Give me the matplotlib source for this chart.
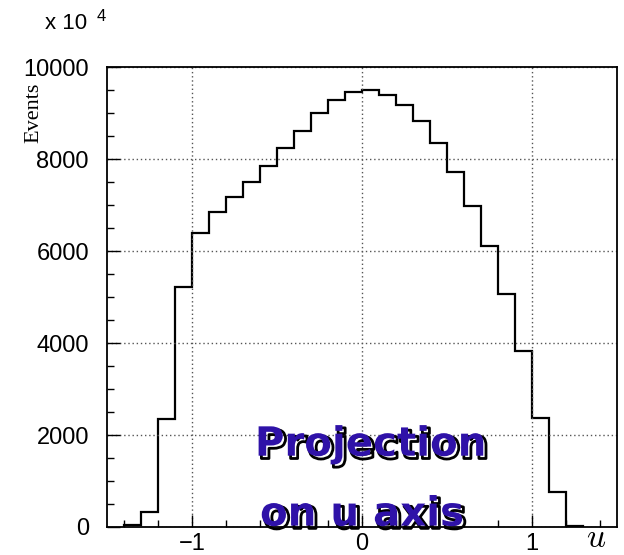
import numpy as np
import matplotlib
matplotlib.use("Agg")
import matplotlib.pyplot as plt
import matplotlib.patheffects as pe
from matplotlib.ticker import MultipleLocator

# bin edges (width 0.1) and counts
bin_edges = np.round(np.arange(-1.4, 1.3001, 0.1), 2)
counts = [40, 320, 2340, 5210, 6400, 6840, 7180, 7510, 7860, 8240, 8620,
          9000, 9280, 9460, 9500, 9400, 9180, 8820, 8360, 7730, 6990, 6110,
          5070, 3830, 2360, 750, 20]

x_ticks = [-1, 0, 1]
x_tick_labels = ["\u22121", "0", "1"]
y_ticks = [0, 2000, 4000, 6000, 8000, 10000]


def main():
    plt.rcParams["mathtext.fontset"] = "cm"
    fig = plt.figure(figsize=(6.24, 5.55), dpi=100)
    ax = fig.add_axes([0.1715, 0.0505, 0.8173, 0.8285])

    ax.stairs(counts, bin_edges, color="black", linewidth=1.6)

    ax.set_xlim(-1.5, 1.5)
    ax.set_ylim(0, 10000)
    ax.set_xticks(x_ticks)
    ax.set_xticklabels(x_tick_labels)
    ax.set_yticks(y_ticks)
    ax.xaxis.set_minor_locator(MultipleLocator(0.2))
    ax.yaxis.set_minor_locator(MultipleLocator(500))
    ax.tick_params(which="both", direction="in", top=False, right=False,
                   labelsize=17, width=1.0, color="black")
    ax.tick_params(which="major", length=9, pad=4)
    ax.tick_params(axis="y", which="major", pad=13)
    ax.tick_params(which="minor", length=5)
    for lbl in ax.get_xticklabels() + ax.get_yticklabels():
        lbl.set_family("Liberation Sans")

    ax.grid(True, which="major", linestyle=(0, (1, 2)), color="#555555",
            linewidth=1.0)
    for sp in ax.spines.values():
        sp.set_linewidth(1.3)

    fig.text(0.072, 0.958, "x 10", fontsize=16, family="Liberation Sans",
             ha="left", va="center")
    fig.text(0.155, 0.970, "4", fontsize=12, family="Liberation Sans",
             ha="left", va="center")
    fig.text(0.054, 0.796, "Events", rotation=90, fontsize=16,
             family="Liberation Serif", ha="center", va="center")
    fig.text(0.956, 0.031, "$u$", fontsize=24, ha="center", va="center")

    effects = [pe.SimpleLineShadow(offset=(2, -2), shadow_color="black",
                                   alpha=1.0, linewidth=2),
               pe.Normal()]
    ax.text(-0.63, 1550, "Projection", fontsize=29, fontweight="bold",
            family="DejaVu Sans", color="#2f12a8", ha="left", va="baseline",
            path_effects=effects)
    ax.text(-0.60, 30, "on u axis", fontsize=29, fontweight="bold",
            family="DejaVu Sans", color="#2f12a8", ha="left", va="baseline",
            path_effects=effects)

    fig.savefig("out.png", dpi=100)
    plt.close(fig)


if __name__ == "__main__":
    main()
